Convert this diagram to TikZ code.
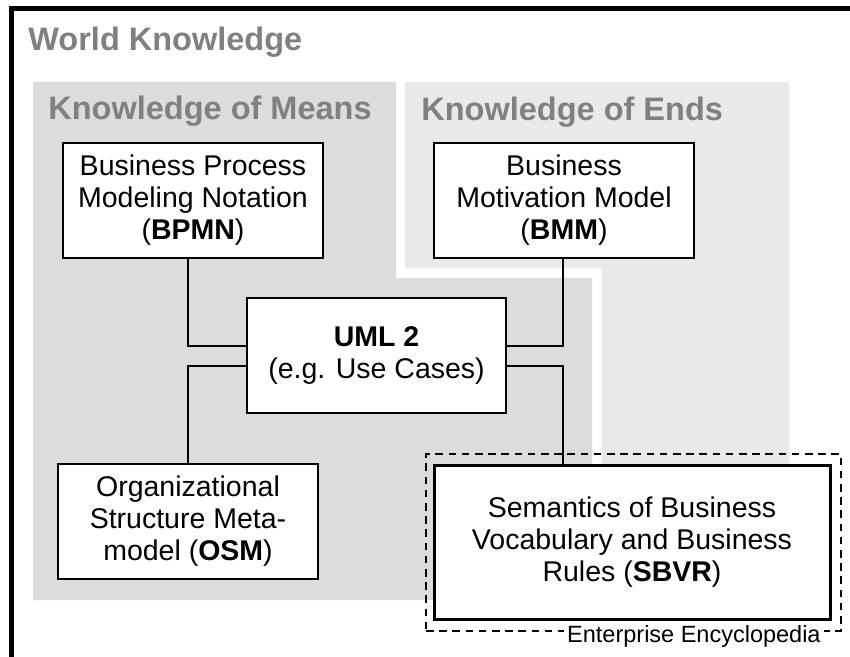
\documentclass[tikz,border=0pt]{standalone}
\usepackage{fontspec}
\setmainfont{Liberation Sans}
\usepackage{xcolor}
\usepackage{tikz}
\usetikzlibrary{positioning}

\definecolor{meansgray}{HTML}{DCDCDC}
\definecolor{endsgray}{HTML}{E9E9E9}
\definecolor{labelgray}{HTML}{808080}

\begin{document}
\begin{tikzpicture}[x=0.5pt, y=-0.5pt,
    area/.style={font=\fontsize{16.25}{18}\selectfont\bfseries, text=labelgray, anchor=base west, inner sep=0pt},
    spec/.style={draw, line width=1.15pt, fill=white, align=center, font=\fontsize{14.25}{16}\selectfont, minimum width=130pt, minimum height=57.5pt, inner sep=0pt},
    link/.style={line width=1.1pt}]
            \useasboundingbox (0,0) rectangle (850,657);
            % shaded areas of knowledge
            \fill[endsgray] (405,82) rectangle (789,600);
            \fill[white] (23.5,72.5) -- (405,72.5) -- (405,268.5) -- (601.5,268.5) -- (601.5,609.5) -- (23.5,609.5) -- cycle;
            \fill[meansgray] (33,82) -- (396,82) -- (396,278) -- (592,278) -- (592,600) -- (33,600) -- cycle;
            \draw[line width=2.25pt] (11.5,657) -- (11.5,8.5) -- (850,8.5);
            
            \node[area] (world) at (28,50.5) {World Knowledge};
            \node[area] (means) at (48,120) {Knowledge of Means};
            \node[area] (ends) at (421,121) {Knowledge of Ends};
            
            % the specifications
            \node[spec] (bpmn) at (193,200.5) {Business Process\\Modeling Notation\\(\textbf{BPMN})};
            \node[spec] (bmm) at (564,200.5) {Business\\Motivation Model\\(\textbf{BMM})};
            \node[spec, minimum width=129.5pt] (uml) at (376.5,355.5) {\textbf{UML 2}\\(e.g. Use Cases)};
            \node[spec] (osm) at (188,521.5) {Organizational\\Structure Meta-\\model (\textbf{OSM})};
            \node[draw, line width=1.35pt, dash pattern=on 3.8pt off 2.8pt, minimum width=207.5pt, minimum height=88.5pt, inner sep=0pt] (encl) at (633.5,542.5) {};
            \node[spec, line width=1.5pt, minimum width=198pt, minimum height=77pt] (sbvr) at (632,542) {Semantics of Business\\Vocabulary and Business\\Rules (\textbf{SBVR})};
            \node[fill=white, anchor=base east, inner xsep=1.5pt, inner ysep=0.5pt, font=\fontsize{11.75}{13}\selectfont] (encltext) at (824,642) {Enterprise Encyclopedia};
            
            \draw[link] ([xshift=-2.5pt]bpmn.south) |- ([yshift=4.75pt]uml.west);
            \draw[link] ([yshift=-5.25pt]uml.west) -| (osm.north);
            \draw[link] ([xshift=-0.5pt]bmm.south) |- ([yshift=4.75pt]uml.east);
            \draw[link] ([yshift=-5.25pt]uml.east) -| ([xshift=-34.5pt]sbvr.north);
        \end{tikzpicture}
\end{document}
